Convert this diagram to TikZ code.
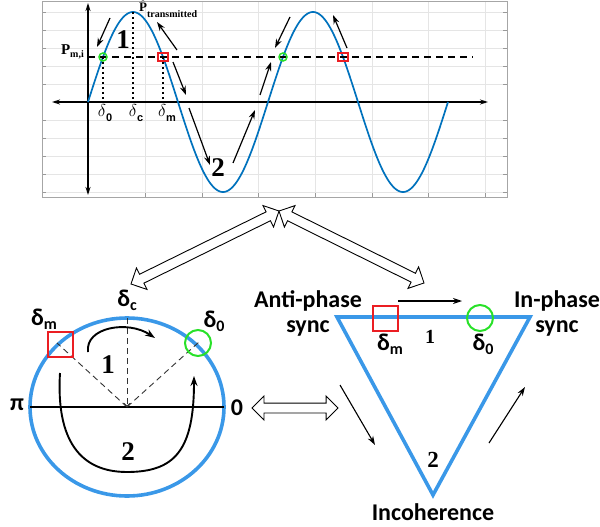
\documentclass[tikz,border=0pt]{standalone}
\usepackage{fontspec}
\setmainfont{Liberation Serif}
\newfontfamily\calfont{Carlito}
\newfontfamily\arfont{Liberation Sans}
\usetikzlibrary{arrows.meta,shapes.arrows,calc}
\definecolor{plotblue}{RGB}{0,114,189}
\definecolor{shapeblue}{RGB}{58,152,232}
\definecolor{ringgreen}{RGB}{40,225,40}
\definecolor{boxred}{RGB}{235,30,35}
\begin{document}
\begin{tikzpicture}[x=1pt,y=-1pt,
  gridline/.style={draw=black!10,line width=0.6pt},
  frameline/.style={draw=black!35,line width=0.8pt},
  tickline/.style={draw=black!40,line width=0.6pt},
  axisline/.style={line width=1.3pt,{Stealth[length=8pt,width=5pt]}-{Stealth[length=8pt,width=5pt]}},
  levelline/.style={line width=1.8pt,dash pattern=on 7pt off 5pt},
  dropline/.style={line width=1.8pt,dash pattern=on 2.5pt off 2.5pt},
  flowarrow/.style={line width=1.2pt,-{Stealth[length=9pt,width=6pt]}},
  curlarrow/.style={line width=1.9pt,-{Stealth[length=10pt,width=7pt]}},
  thinarrow/.style={line width=1.1pt,-{Stealth[length=9pt,width=6pt]}},
  ringsmall/.style={draw=ringgreen,line width=1.5pt,circle,minimum size=8pt,inner sep=0pt},
  boxsmall/.style={draw=boxred,line width=1.5pt,rectangle,minimum width=10pt,minimum height=8pt,inner sep=0pt},
  ringbig/.style={draw=ringgreen,line width=2pt,circle,minimum size=26pt,inner sep=0pt},
  boxbig/.style={draw=boxred,line width=2pt,rectangle,minimum size=25pt,inner sep=0pt},
  shapeline/.style={draw=shapeblue,line width=3.6pt},
  ddash/.style={line width=0.9pt,draw=black!80,dash pattern=on 6pt off 4pt},
  hollow/.style={double arrow,draw,fill=white,line width=0.9pt,inner sep=0pt,inner ysep=4.5pt,
     minimum width=23pt,double arrow head extend=7pt,double arrow tip angle=90},
  labsans/.style={font=\calfont\bfseries\fontsize{24}{25}\selectfont,inner sep=0pt},
  bignum/.style={font=\bfseries\fontsize{27}{27}\selectfont,inner sep=0pt},
  midnum/.style={font=\bfseries\fontsize{20}{20}\selectfont,inner sep=0pt},
  deltop/.style={font=\fontsize{16}{16}\selectfont,inner sep=0pt}
]
\useasboundingbox (0,0) rectangle (600,527);

% ---------- top plot ----------
\foreach \yy in {12,30,48,66,84,120,138,156,174,192}{
  \draw[gridline] (42,\yy) -- (507,\yy);
  \draw[tickline] (42,\yy) -- (46,\yy);
  \draw[tickline] (503,\yy) -- (507,\yy);}
\foreach \xx in {145,202,258,315,372,428,485}{
  \draw[gridline] (\xx,1) -- (\xx,197);
  \draw[tickline] (\xx,193) -- (\xx,197);}
\draw[frameline] (42,1) rectangle (507,197);

\coordinate (xl) at (52,102); \coordinate (xr) at (488,102);
\coordinate (yt) at (88,3);   \coordinate (yb) at (88,195);
\draw[axisline] (xl) -- (xr);
\draw[axisline] (yt) -- (yb);

\draw[plotblue,line width=1.7pt] plot[domain=0:720,samples=241,smooth] ({88+\x/2},{102-90*sin(\x)});

\coordinate (lv0) at (88,57); \coordinate (lv1) at (473,57);
\draw[levelline] (lv0) -- (lv1);

\coordinate (f0) at (103,102); \coordinate (fc) at (133,102); \coordinate (fm) at (163,102);
\coordinate (pk) at (133,12);
\draw[dropline] (103,57) -- (f0);
\draw[dropline] (pk) -- (fc);
\draw[dropline] (163,57) -- (fm);

\node[ringsmall] (g1) at (103,57) {};
\node[ringsmall] (g2) at (283,57) {};
\node[boxsmall] (r1) at (163,57) {};
\node[boxsmall] (r2) at (343,57) {};

\node[deltop,anchor=north] (ld0) at (105,104) {$\delta$\raisebox{-5pt}{\arfont\bfseries\fontsize{11}{11}\selectfont 0}};
\node[deltop,anchor=north] (ldc) at (136,104) {$\delta$\raisebox{-5pt}{\arfont\bfseries\fontsize{11}{11}\selectfont c}};
\node[deltop,anchor=north] (ldm) at (167,104) {$\delta$\raisebox{-5pt}{\arfont\bfseries\fontsize{11}{11}\selectfont m}};

\node[anchor=base east,inner sep=0pt] (pmi) at (84,55) {\fontsize{15}{15}\selectfont\bfseries P\raisebox{-3pt}{\fontsize{10}{10}\selectfont m,i}};
\node[anchor=base west,inner sep=0pt] (ptr) at (139,12) {\fontsize{13}{13}\selectfont$\hat{\mathbf{P}}$\raisebox{-6pt}{\bfseries\fontsize{10}{10}\selectfont transmitted}};

\node[bignum] (n1t) at (123,40) {1};
\node[bignum] (n2t) at (218,168) {2};

\coordinate (a1s) at (110,18);  \coordinate (a1e) at (97,47);
\coordinate (a2s) at (177,50);  \coordinate (a2e) at (157,22);
\coordinate (a3s) at (173,62);  \coordinate (a3e) at (186,95);
\coordinate (a4s) at (189,108); \coordinate (a4e) at (210,165);
\coordinate (a5s) at (233,163); \coordinate (a5e) at (255,110);
\coordinate (a6s) at (260,95);  \coordinate (a6e) at (271,62);
\coordinate (a7s) at (290,17);  \coordinate (a7e) at (275,48);
\coordinate (a8s) at (347,48);  \coordinate (a8e) at (333,15);
\foreach \i in {1,...,8}{\draw[flowarrow] (a\i s) -- (a\i e);}

% ---------- hollow arrows ----------
\coordinate (hub) at (279,211);
\coordinate (circtop) at (131,284);
\coordinate (tritop) at (424,283);
\coordinate (hl) at (252,408); \coordinate (hr) at (338,408);
\path let \p1=($(circtop)-(hub)$), \n1={veclen(\x1,\y1)} in
  (hub) -- (circtop) node[hollow,midway,sloped,minimum height=\n1] (hcirc) {};
\path let \p1=($(tritop)-(hub)$), \n1={veclen(\x1,\y1)} in
  (hub) -- (tritop) node[hollow,midway,sloped,minimum height=\n1] (htri) {};
\path let \p1=($(hr)-(hl)$), \n1={veclen(\x1,\y1)} in
  (hl) -- (hr) node[hollow,midway,sloped,minimum height=\n1] (hmid) {};

% ---------- circle ----------
\coordinate (cc) at (127,407);
\draw[shapeline] (cc) ellipse [x radius=97, y radius=89];
\coordinate (cpi) at (30,407); \coordinate (czero) at (224,407);
\draw[line width=1.1pt] (cpi) -- (czero);
\coordinate (ctop) at (127,318);
\coordinate (cdm) at (57,343); \coordinate (cd0) at (199,342);
\draw[ddash,-{Straight Barb[length=3pt,width=6pt]}] (ctop) -- (cc);
\draw[ddash] (cc) -- (cdm);
\draw[ddash] (cc) -- (cd0);
\node[boxbig] (cbox) at (60,344) {};
\node[ringbig] (cring) at (198,343) {};

\node[font=\calfont\bfseries\fontsize{24}{24}\selectfont,inner sep=0pt] (pilab) at (17,405) {π};
\node[font=\calfont\bfseries\fontsize{24}{24}\selectfont,inner sep=0pt] (zlab) at (237,408) {0};
\node[labsans] (cdc) at (127,300) {δ\raisebox{-4pt}{\fontsize{16}{16}\selectfont c}};
\node[labsans] (cdml) at (44,319) {δ\raisebox{-4pt}{\fontsize{16}{16}\selectfont m}};
\node[labsans] (cd0l) at (214,321) {δ\raisebox{-4pt}{\fontsize{16}{16}\selectfont 0}};

\coordinate (c1s) at (88,352); \coordinate (c1e) at (155,338);
\draw[curlarrow] (c1s) .. controls (85,327) and (128,320) .. (c1e);
\coordinate (c2s) at (60,373); \coordinate (c2b) at (127,472); \coordinate (c2e) at (194,376);
\draw[curlarrow] (c2s) .. controls (56,440) and (80,472) .. (c2b) .. controls (175,472) and (194,450) .. (c2e);

\node[bignum] (cn1) at (108,365) {1};
\node[bignum] (cn2) at (128,452) {2};

% ---------- triangle ----------
\coordinate (tl) at (337,317); \coordinate (tr) at (530,317); \coordinate (tb) at (433,495);
\draw[shapeline,line join=miter] (tl) -- (tr) -- (tb) -- cycle;
\node[boxbig] (tbox) at (385,318) {};
\node[ringbig] (tring) at (480,318) {};
\node[labsans] (tdm) at (390,344) {δ\raisebox{-4pt}{\fontsize{16}{16}\selectfont m}};
\node[labsans] (td0) at (483,344) {δ\raisebox{-4pt}{\fontsize{16}{16}\selectfont 0}};
\node[midnum] (tn1) at (430,337) {1};
\node[midnum,font=\bfseries\fontsize{23}{23}\selectfont] (tn2) at (433,460) {2};

\node[labsans,align=center] (anti) at (308,313) {Anti-phase\\sync};
\node[labsans,align=center] (inph) at (557,313) {In-phase\\sync};
\node[labsans] (inco) at (433,512) {Incoherence};

\coordinate (t1s) at (398,301); \coordinate (t1e) at (462,301);
\coordinate (t2s) at (340,385); \coordinate (t2e) at (375,445);
\coordinate (t3s) at (489,443); \coordinate (t3e) at (525,387);
\draw[thinarrow] (t1s) -- (t1e);
\draw[thinarrow] (t2s) -- (t2e);
\draw[thinarrow] (t3s) -- (t3e);
\end{tikzpicture}
\end{document}
